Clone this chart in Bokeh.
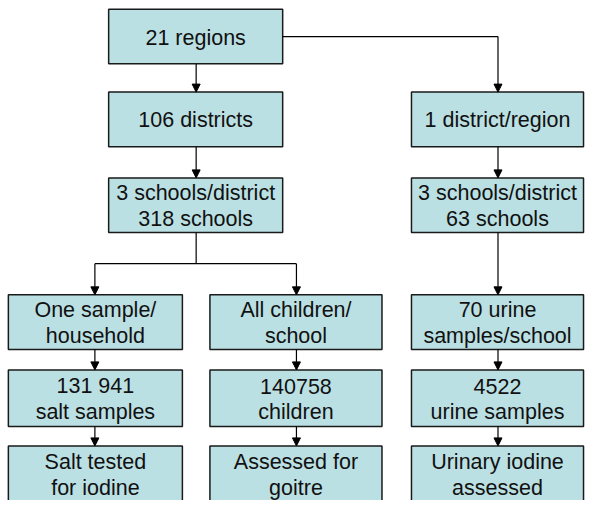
from bokeh.plotting import figure
from bokeh.models import Range1d, ColumnDataSource, Arrow, NormalHead
from bokeh.embed import file_html
from bokeh.resources import INLINE
from bokeh.core.properties import value

# ---- chart content (texts of the flowchart) ----
top_labels = [["21 regions"], ["106 districts"], ["3 schools/district", "318 schools"]]
right_labels = [["1 district/region"], ["3 schools/district", "63 schools"],
                ["70 urine", "samples/school"], ["4522", "urine samples"],
                ["Urinary iodine", "assessed"]]
left_labels = [["One sample/", "household"], ["131 941", "salt samples"], ["Salt tested", "for iodine"]]
mid_labels = [["All children/", "school"], ["140758", "children"], ["Assessed for", "goitre"]]

# ---- layout (reference pixel coordinates) ----
col = {"top": (116, 293), "right": (424, 599), "left": (14, 191), "mid": (219, 394)}
row = [(14, 70), (99, 155), (187, 243), (307, 363), (384, 442), (462, 520)]

nodes = []  # (col, row index, lines)
for i, lab in enumerate(top_labels):
    nodes.append(("top", i, lab))
for i, lab in enumerate(right_labels):
    nodes.append(("right", i + 1, lab))
for i, lab in enumerate(left_labels):
    nodes.append(("left", i + 3, lab))
for i, lab in enumerate(mid_labels):
    nodes.append(("mid", i + 3, lab))

box = dict(left=[], right=[], top=[], bottom=[])
txt = dict(x=[], y=[], t=[])
LINE = 26
for c, r, lines in nodes:
    x0, x1 = col[c]
    y0, y1 = row[r]
    box["left"].append(x0); box["right"].append(x1)
    box["top"].append(y0); box["bottom"].append(y1)
    cx = (x0 + x1) / 2
    cy = (y0 + y1) / 2 + 1
    n = len(lines)
    for k, s in enumerate(lines):
        txt["x"].append(cx)
        txt["y"].append(cy + (k - (n - 1) / 2) * LINE)
        txt["t"].append(s)

p = figure(width=585, height=500, output_backend="svg", toolbar_location=None,
           x_range=Range1d(6, 601), y_range=Range1d(518, 5),
           min_border=0, outline_line_color=None)
p.axis.visible = False
p.grid.visible = False
p.background_fill_color = "white"
p.border_fill_color = "white"

p.quad(source=ColumnDataSource(box), left="left", right="right", top="top", bottom="bottom",
       fill_color="#BBE0E3", line_color="#1a1a1a", line_width=1.5)

p.text(source=ColumnDataSource(txt), x="x", y="y", text="t",
       text_font=value("Liberation Sans"), text_font_size="21.5px",
       text_align="center", text_baseline="middle", text_color="#111111")

# connectors without heads
segs = dict(x0=[293, 205, 102], y0=[42, 243, 275], x1=[512, 205, 307], y1=[42, 275, 275])
p.segment(source=ColumnDataSource(segs), x0="x0", y0="y0", x1="x1", y1="y1",
          line_color="black", line_width=1.2)

# arrows
ax0, ay0, ax1, ay1 = [], [], [], []
def arr(x, ya, yb):
    ax0.append(x); ax1.append(x); ay0.append(ya); ay1.append(yb)
arr(512, 42, 99)
arr(205, 70, 99)
arr(205, 155, 187)
arr(102, 275, 307)
arr(307, 275, 307)
arr(512, 155, 187)
arr(512, 243, 307)
for x in (102, 307, 512):
    arr(x, 363, 384)
    arr(x, 442, 462)

p.add_layout(Arrow(end=NormalHead(size=8, fill_color="black", line_color="black", line_width=1),
                   source=ColumnDataSource(dict(x0=ax0, y0=ay0, x1=ax1, y1=ay1)),
                   x_start="x0", y_start="y0", x_end="x1", y_end="y1",
                   line_color="black", line_width=1.2))

open("out.html", "w").write(file_html(p, INLINE))
